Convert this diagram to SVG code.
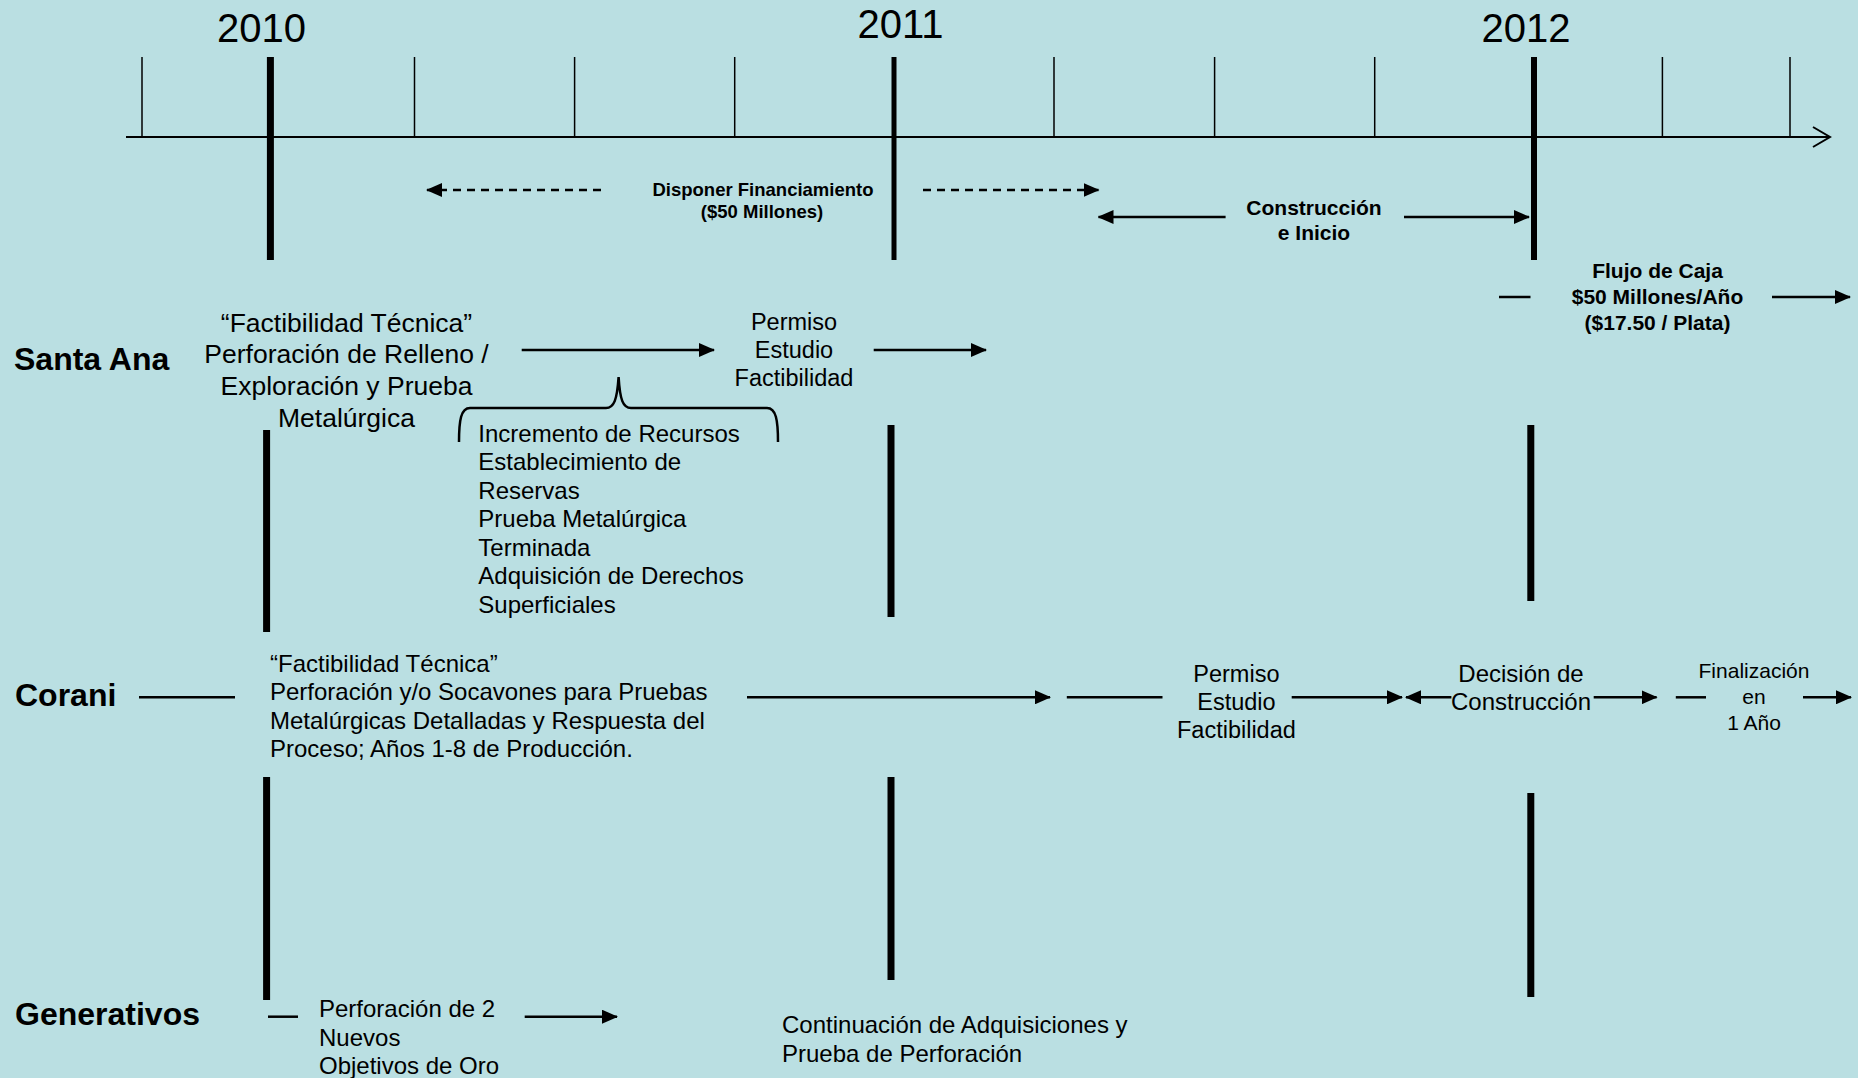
<svg xmlns="http://www.w3.org/2000/svg" width="1858" height="1078" viewBox="0 0 1858 1078">
<defs>
<marker id="ah" markerUnits="userSpaceOnUse" markerWidth="16" markerHeight="14" refX="15" refY="7" orient="auto">
<path d="M0,0 L16,7 L0,14 z" fill="#000"/>
</marker>
<style>
text{font-family:"Liberation Sans",Arial,sans-serif;fill:#000}
.yr{font-size:40px}
.lbl{font-size:32px;font-weight:bold}
.t24{font-size:24px}
.t26{font-size:26.5px}
.t23{font-size:23.5px}
.t21{font-size:21px}
.b21{font-size:21px;font-weight:bold}
.b18{font-size:18.5px;font-weight:bold}
.c{text-anchor:middle}
.ar{stroke:#000;stroke-width:2.5;fill:none;marker-end:url(#ah)}
.da{stroke:#000;stroke-width:2.5;fill:none;stroke-dasharray:8 6;marker-end:url(#ah)}
.ln{stroke:#000;stroke-width:2.5;fill:none}
.tk{stroke:#000;stroke-width:1.5}
.thick{stroke:#000}
</style>
</defs>
<rect width="1858" height="1078" fill="#BADFE2"/>

<g id="timeline">
<line x1="126" y1="137" x2="1830" y2="137" stroke="#000" stroke-width="2.2"/>
<polyline points="1813,127 1830,137 1813,147" fill="none" stroke="#000" stroke-width="2"/>
<line class="tk" x1="142" y1="57" x2="142" y2="137"/>
<line class="tk" x1="414.5" y1="57" x2="414.5" y2="137"/>
<line class="tk" x1="574.6" y1="57" x2="574.6" y2="137"/>
<line class="tk" x1="734.7" y1="57" x2="734.7" y2="137"/>
<line class="tk" x1="1054" y1="57" x2="1054" y2="137"/>
<line class="tk" x1="1214.6" y1="57" x2="1214.6" y2="137"/>
<line class="tk" x1="1374.7" y1="57" x2="1374.7" y2="137"/>
<line class="tk" x1="1662.4" y1="57" x2="1662.4" y2="137"/>
<line class="tk" x1="1790" y1="57" x2="1790" y2="137"/>
<line class="thick" x1="270.4" y1="57" x2="270.4" y2="260" stroke-width="7"/>
<line class="thick" x1="894" y1="57" x2="894" y2="260" stroke-width="5"/>
<line class="thick" x1="1534" y1="57" x2="1534" y2="260" stroke-width="6"/>
<line class="thick" x1="266.6" y1="430" x2="266.6" y2="632" stroke-width="7"/>
<line class="thick" x1="891" y1="425" x2="891" y2="617" stroke-width="7"/>
<line class="thick" x1="1530.8" y1="425" x2="1530.8" y2="601" stroke-width="7"/>
<line class="thick" x1="266.6" y1="777" x2="266.6" y2="1000" stroke-width="7"/>
<line class="thick" x1="891" y1="777" x2="891" y2="980" stroke-width="7"/>
<line class="thick" x1="1530.8" y1="793" x2="1530.8" y2="997" stroke-width="7"/>
<text class="yr c" x="261.5" y="42">2010</text>
<text class="yr c" x="900.5" y="37.5">2011</text>
<text class="yr c" x="1526" y="42">2012</text>
</g>

<g id="connectors">
<line class="da" x1="601" y1="190" x2="427" y2="190"/>
<line class="da" x1="923" y1="190" x2="1098.5" y2="190"/>
<line class="ar" x1="1225.6" y1="217" x2="1098.5" y2="217"/>
<line class="ar" x1="1404" y1="217" x2="1529" y2="217"/>
<line class="ln" x1="1499" y1="297" x2="1530.5" y2="297"/>
<line class="ar" x1="1772" y1="297" x2="1850" y2="297"/>
<line class="ar" x1="521.7" y1="350" x2="714" y2="350"/>
<line class="ar" x1="873.7" y1="350" x2="986" y2="350"/>
<path class="ln" d="M459,442 C459,420 461,408 470,408 L606,408 C614,408 617,400 618.6,377 C620,400 623,408 631,408 L767,408 C776,408 778,420 778,442" stroke-width="2"/>
<line class="ln" x1="139" y1="697.3" x2="235" y2="697.3"/>
<line class="ar" x1="747" y1="697.3" x2="1050" y2="697.3"/>
<line class="ln" x1="1066.8" y1="697.3" x2="1162.5" y2="697.3"/>
<line class="ar" x1="1291.7" y1="697.3" x2="1402" y2="697.3"/>
<line class="ar" x1="1451.4" y1="697.3" x2="1406" y2="697.3"/>
<line class="ar" x1="1593.7" y1="697.3" x2="1656.6" y2="697.3"/>
<line class="ln" x1="1675.8" y1="697.3" x2="1706" y2="697.3"/>
<line class="ar" x1="1803" y1="697.3" x2="1851" y2="697.3"/>
<line class="ln" x1="268" y1="1016.7" x2="298" y2="1016.7"/>
<line class="ar" x1="524.7" y1="1016.7" x2="617" y2="1016.7"/>
</g>

<g id="financiamiento">
<text class="b18 c" x="763" y="196">Disponer Financiamiento</text>
<text class="b18 c" x="762" y="218">($50 Millones)</text>
</g>
<g id="construccion">
<text class="b21 c" x="1314" y="215">Construcción</text>
<text class="b21 c" x="1314" y="240">e Inicio</text>
</g>
<g id="flujo">
<text class="b21 c" x="1657.5" y="278">Flujo de Caja</text>
<text class="b21 c" x="1657.5" y="304">$50 Millones/Año</text>
<text class="b21 c" x="1657.5" y="330">($17.50 / Plata)</text>
</g>

<g id="santa-ana-label"><text class="lbl" x="14" y="370">Santa Ana</text></g>
<g id="santa-ana-factibilidad">
<text class="t26 c" x="346.5" y="331.5">“Factibilidad Técnica”</text>
<text class="t26 c" x="346.5" y="363.3">Perforación de Relleno /</text>
<text class="t26 c" x="346.5" y="395">Exploración y Prueba</text>
<text class="t26 c" x="346.5" y="426.7">Metalúrgica</text>
</g>
<g id="santa-ana-permiso">
<text class="t23 c" x="794" y="330">Permiso</text>
<text class="t23 c" x="794" y="358">Estudio</text>
<text class="t23 c" x="794" y="386">Factibilidad</text>
</g>
<g id="santa-ana-lista">
<text class="t24" x="478.3" y="441.7">Incremento de Recursos</text>
<text class="t24" x="478.3" y="470.2">Establecimiento de</text>
<text class="t24" x="478.3" y="498.7">Reservas</text>
<text class="t24" x="478.3" y="527.2">Prueba Metalúrgica</text>
<text class="t24" x="478.3" y="555.7">Terminada</text>
<text class="t24" x="478.3" y="584.2">Adquisición de Derechos</text>
<text class="t24" x="478.3" y="612.7">Superficiales</text>
</g>

<g id="corani-label"><text class="lbl" x="15" y="706">Corani</text></g>
<g id="corani-factibilidad">
<text class="t24" x="270" y="671.7">“Factibilidad Técnica”</text>
<text class="t24" x="270" y="700.2">Perforación y/o Socavones para Pruebas</text>
<text class="t24" x="270" y="728.7">Metalúrgicas Detalladas y Respuesta del</text>
<text class="t24" x="270" y="757.2">Proceso; Años 1-8 de Producción.</text>
</g>
<g id="corani-permiso">
<text class="t23 c" x="1236.4" y="681.7">Permiso</text>
<text class="t23 c" x="1236.4" y="710">Estudio</text>
<text class="t23 c" x="1236.4" y="738.3">Factibilidad</text>
</g>
<g id="corani-decision">
<text class="t24 c" x="1521" y="681.7">Decisión de</text>
<text class="t24 c" x="1521" y="710">Construcción</text>
</g>
<g id="corani-finalizacion">
<text class="t21 c" x="1754" y="678.3">Finalización</text>
<text class="t21 c" x="1754" y="704">en</text>
<text class="t21 c" x="1754" y="730">1 Año</text>
</g>

<g id="generativos-label"><text class="lbl" x="15" y="1025">Generativos</text></g>
<g id="generativos-perforacion">
<text class="t24" x="319" y="1017">Perforación de 2</text>
<text class="t24" x="319" y="1045.5">Nuevos</text>
<text class="t24" x="319" y="1074">Objetivos de Oro</text>
</g>
<g id="generativos-continuacion">
<text class="t24" x="782" y="1033">Continuación de Adquisiciones y</text>
<text class="t24" x="782" y="1061.5">Prueba de Perforación</text>
</g>
</svg>
